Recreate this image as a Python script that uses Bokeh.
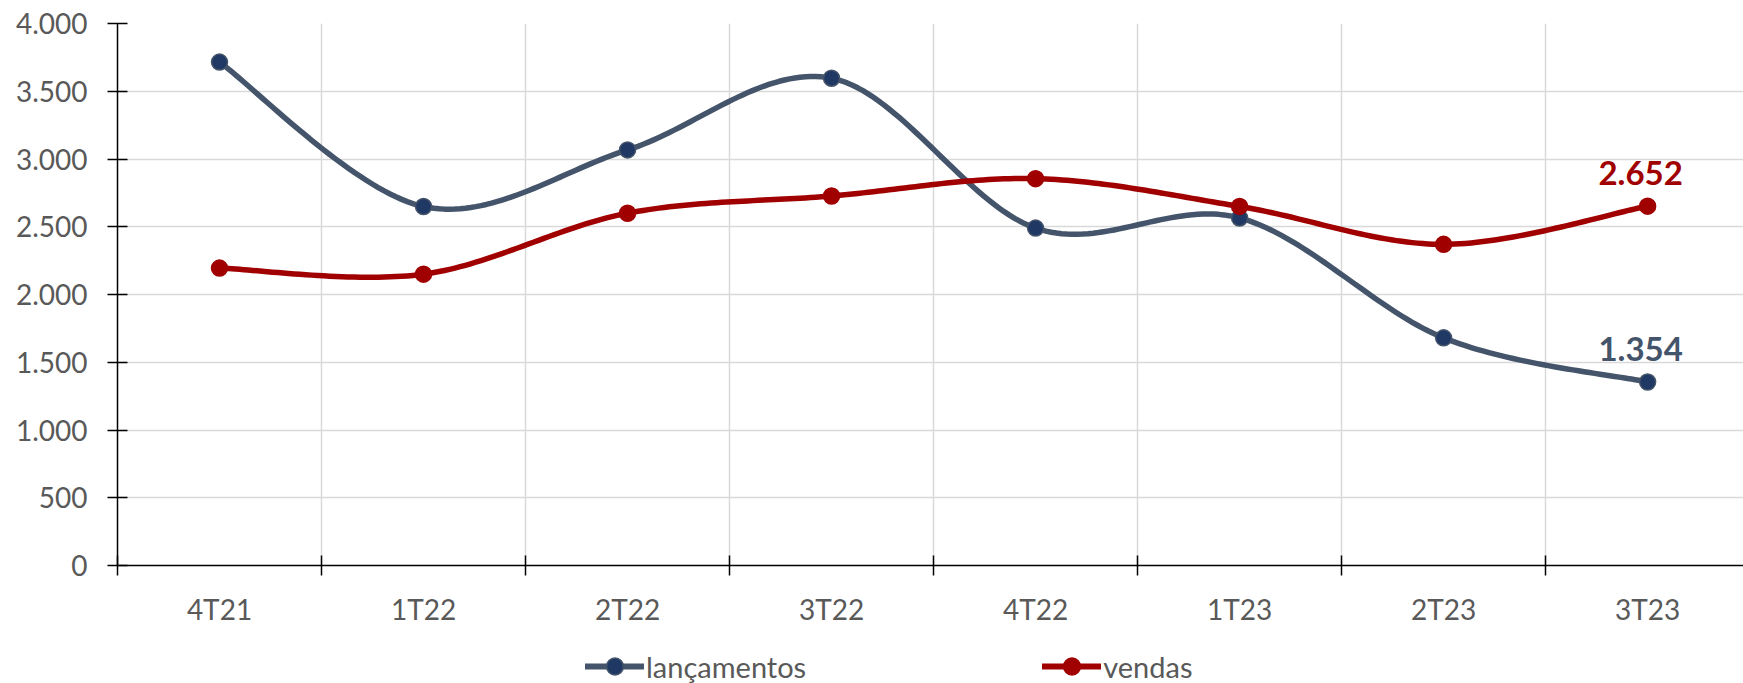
import numpy as np
from bokeh.plotting import figure
from bokeh.layouts import column
from bokeh.models import FixedTicker, Legend, LegendItem, Range1d, ColumnDataSource
from bokeh.core.properties import value
from bokeh.embed import file_html
from bokeh.resources import INLINE

categories = ["4T21", "1T22", "2T22", "3T22", "4T22", "1T23", "2T23", "3T23"]
lancamentos = [3715, 2649, 3067, 3596, 2490, 2565, 1680, 1354]
vendas = [2195, 2150, 2600, 2727, 2855, 2650, 2370, 2652]
y_ticks = [0, 500, 1000, 1500, 2000, 2500, 3000, 3500, 4000]
series_names = ["lançamentos", "vendas"]

NAVY_LINE = "#44546A"
NAVY_FILL = "#203864"
RED = "#A00000"
FONT = "Lato"
GRAY = "#595959"


def fmt(v):
    return f"{v:,}".replace(",", ".")


def smooth(xs, ys, n=40):
    # Excel-style smoothed line (uniform Catmull-Rom / Bezier with 1/6 tension)
    P = np.column_stack([xs, ys]).astype(float)
    P = np.vstack([P[0], P, P[-1]])
    out = []
    t = np.linspace(0, 1, n)[:, None]
    for i in range(1, len(P) - 2):
        p0, p1, p2, p3 = P[i - 1], P[i], P[i + 1], P[i + 2]
        c1 = p1 + (p2 - p0) / 6.0
        c2 = p2 - (p3 - p1) / 6.0
        seg = ((1 - t) ** 3) * p1 + 3 * ((1 - t) ** 2) * t * c1 + 3 * (1 - t) * t ** 2 * c2 + t ** 3 * p2
        out.append(seg if i == 1 else seg[1:])
    out = np.vstack(out)
    return out[:, 0], out[:, 1]


n = len(categories)
xc = [i + 0.5 for i in range(n)]

p = figure(width=1743, height=631,
           x_range=Range1d(0, 7.97), y_range=Range1d(0, 4000),
           output_backend="svg", toolbar_location=None,
           min_border_left=117, min_border_right=0,
           min_border_top=23, min_border_bottom=66)
p.outline_line_color = None

# grid
p.xgrid.ticker = FixedTicker(ticks=list(range(1, n + 1)))
p.ygrid.ticker = FixedTicker(ticks=y_ticks)
for g in (p.xgrid, p.ygrid):
    g.grid_line_color = "#D9D9D9"
    g.grid_line_width = 1.5

# x axis: labels at centres, tick marks at category boundaries
xa = p.xaxis[0]
xa.ticker = FixedTicker(ticks=xc, minor_ticks=list(range(0, n + 1)))
xa.major_label_overrides = {x: c for x, c in zip(xc, categories)}
xa.major_tick_line_color = None
xa.major_tick_in = 0
xa.major_tick_out = 0
xa.minor_tick_line_color = "black"
xa.minor_tick_line_width = 1.5
xa.minor_tick_in = 10
xa.minor_tick_out = 10
xa.axis_line_color = "black"
xa.axis_line_width = 1.5
xa.major_label_standoff = 16
xa.major_label_text_font = FONT
xa.major_label_text_font_size = "28px"
xa.major_label_text_color = GRAY

ya = p.yaxis[0]
ya.ticker = FixedTicker(ticks=y_ticks)
ya.major_label_overrides = {v: fmt(v) for v in y_ticks}
ya.minor_tick_line_color = None
ya.major_tick_line_color = "black"
ya.major_tick_line_width = 1.5
ya.major_tick_in = 10
ya.major_tick_out = 10
ya.axis_line_color = "black"
ya.axis_line_width = 1.5
ya.major_label_standoff = 20
ya.major_label_text_font = FONT
ya.major_label_text_font_size = "28px"
ya.major_label_text_color = GRAY

# legend lives in a thin figure underneath (its frame aligns with the main frame)
lg = figure(width=1743, height=52, x_range=Range1d(0, 1), y_range=Range1d(0, 1),
            output_backend="svg", toolbar_location=None,
            min_border_left=117, min_border_right=0, min_border_top=0, min_border_bottom=0)
lg.axis.visible = False
lg.grid.visible = False
lg.outline_line_color = None

items = []
for name, vals, lc, fc in ((series_names[0], lancamentos, NAVY_LINE, NAVY_FILL),
                           (series_names[1], vendas, RED, RED)):
    sx, sy = smooth(xc, vals)
    p.line(sx, sy, line_color=lc, line_width=5.5, line_cap="round", line_join="round")
    p.scatter(xc, vals, size=16, fill_color=fc, line_color=lc, line_width=1.5)
    src = ColumnDataSource(dict(x=[xc[-1]], y=[vals[-1]], t=[fmt(vals[-1])]))
    p.text(x="x", y="y", text="t", source=src, text_align="center", text_baseline="alphabetic",
           x_offset=-7, y_offset=-33, text_color=lc, text_font=value(FONT), text_font_style="bold",
           text_font_size="33px")
    # off-screen stand-ins so the legend can draw its glyphs
    d1 = lg.line(x=[-10, -9], y=[-10, -10], line_color=lc, line_width=6, line_cap="round")
    d2 = lg.scatter(x=[-10], y=[-10], size=17, fill_color=fc, line_color=lc, line_width=1.5)
    items.append(LegendItem(label=name, renderers=[d1, d2]))

legend = Legend(items=items, orientation="horizontal", location=(468, -4))
legend.glyph_width = 59
legend.glyph_height = 42
legend.label_standoff = 2
legend.spacing = 236
legend.padding = 0
legend.margin = 0
legend.border_line_color = None
legend.background_fill_alpha = 0
legend.label_text_font = FONT
legend.label_text_font_size = "29px"
legend.label_text_color = GRAY
legend.label_height = 42
lg.add_layout(legend)

layout = column(p, lg, spacing=0)
open("out.html", "w").write(file_html(layout, INLINE))
